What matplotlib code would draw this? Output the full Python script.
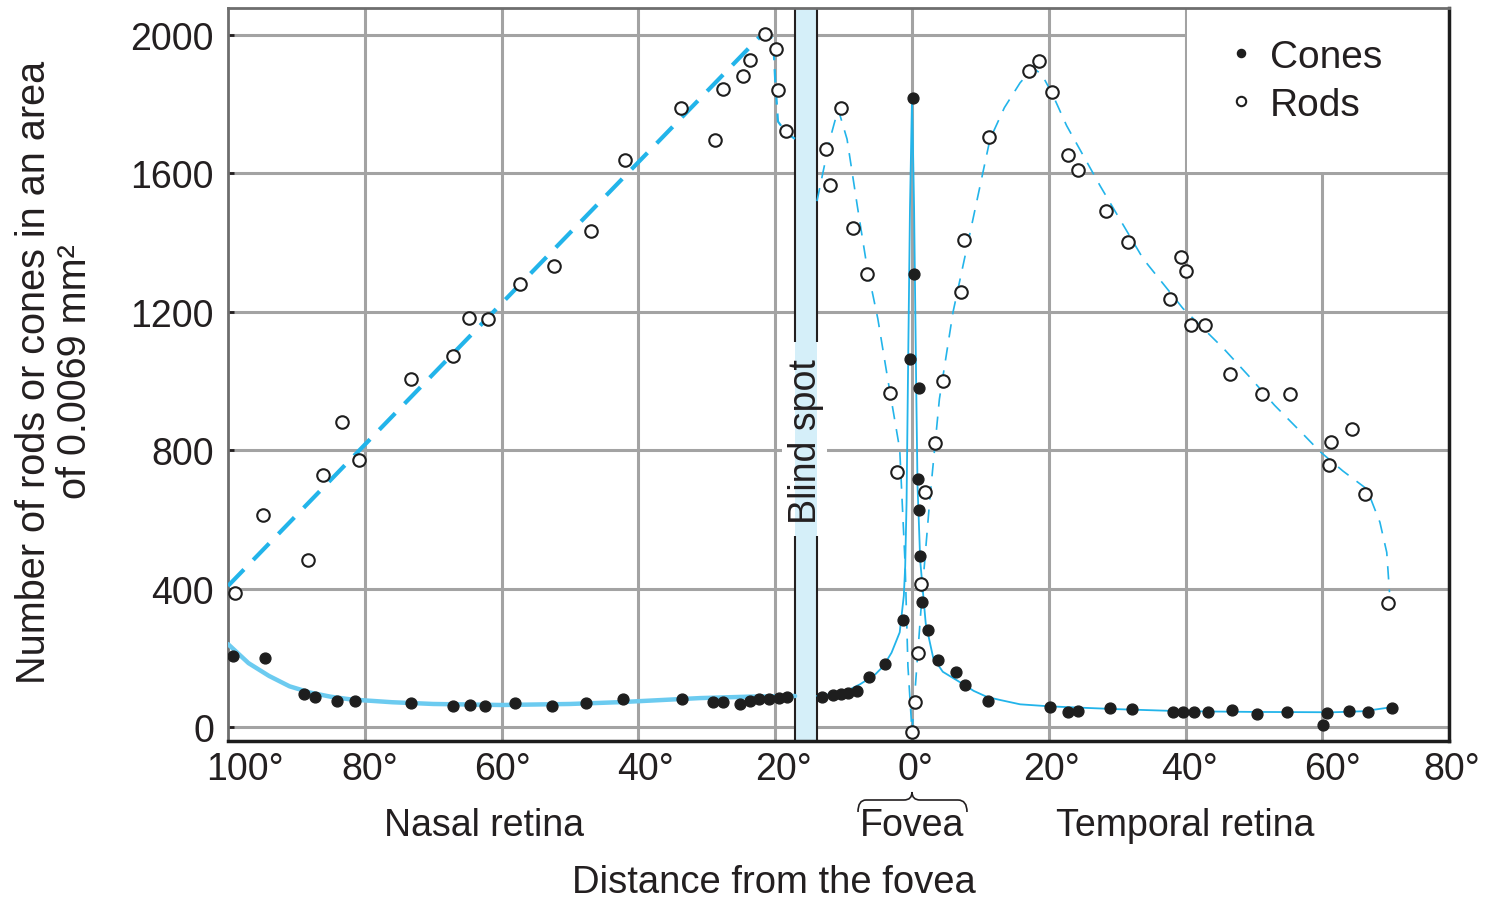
import matplotlib
matplotlib.use("Agg")
import matplotlib.pyplot as plt
from matplotlib.patches import Rectangle, PathPatch
from matplotlib.path import Path
import matplotlib.transforms as mtransforms

plt.rcParams['font.family'] = ['Liberation Sans', 'DejaVu Sans']

# measured points (nasal side negative)
cones_x = [-99.3, -94.6, -88.9, -87.3, -84.1, -81.4, -73.3, -67.1, -64.6, -62.4,
           -58.0, -52.6, -47.7, -42.3, -33.6, -29.1, -27.6, -25.1, -23.7, -22.3,
           -20.9, -19.5, -18.3, -13.2, -11.6, -10.4, -9.3, -8.0, -6.3, -3.9,
           -1.3, -0.3, 0.1, 0.3, 1.0, 0.9, 1.0, 1.2, 1.5, 2.3, 3.8, 6.4, 7.7, 11.1,
           20.2, 22.8, 24.3, 28.9, 32.2, 38.2, 39.6, 41.2, 43.3, 46.8, 50.4, 54.8,
           60.1, 60.7, 63.9, 66.7, 70.2]
cones_y = [205, 199, 95, 87, 75, 75, 69, 61, 64, 61,
           69, 61, 69, 81, 81, 72, 72, 66, 76, 82,
           82, 84, 86, 86, 92, 96, 100, 104, 145, 182,
           309, 1064, 1818, 1309, 980, 717, 627, 494, 361, 280, 194, 159, 121, 75,
           58, 44, 46, 55, 52, 43, 43, 43, 43, 49, 38, 43,
           6, 40, 46, 43, 55]

rods_x = [-99.0, -94.9, -88.3, -86.1, -83.3, -80.8, -73.2, -67.1, -64.8, -62.0,
          -57.3, -52.3, -46.9, -42.0, -33.8, -28.8, -27.6, -24.7, -23.7, -21.5,
          -19.9, -19.6, -18.4, -12.6, -12.0, -10.4, -8.6, -6.6, -3.2, -2.2,
          0.0, 0.4, 0.9, 1.3, 1.9, 3.4, 4.5, 7.2, 7.6, 11.3,
          17.1, 18.6, 20.5, 22.8, 24.3, 28.4, 31.6, 37.7, 39.3, 40.1,
          40.8, 42.8, 46.5, 51.2, 55.3, 61.0, 61.3, 64.3, 66.2, 69.6]
rods_y = [387, 613, 483, 728, 881, 772, 1006, 1072, 1182, 1179,
          1280, 1332, 1434, 1639, 1789, 1697, 1844, 1882, 1928, 2003,
          1960, 1841, 1723, 1671, 1566, 1789, 1442, 1309, 965, 737,
          -14, 72, 214, 413, 679, 821, 1000, 1257, 1407, 1705,
          1896, 1925, 1835, 1653, 1610, 1491, 1402, 1237, 1358, 1318,
          1162, 1162, 1020, 962, 962, 757, 823, 861, 673, 358]

# hand-drawn trend curves
cone_nasal_x = [-100, -97, -94, -91, -88, -85, -82, -76, -70, -60, -50, -43, -31, -24, -17.1]
cone_nasal_y = [240, 185, 148, 118, 100, 88, 80, 72, 67, 64, 67, 72, 84, 88, 90]
cone_temp_x = [-13.9, -10, -7.6, -5.5, -4.2, -3.0, -1.8, -1.2, -1.0, -0.8, -0.6, -0.3, 0.0,
               0.3, 0.6, 0.8, 1.2, 2.0, 3.1, 4.5, 7.0, 9.0, 11.0, 13.0, 15.8, 20.2,
               25, 30, 39.6, 50, 61.5, 66, 70.2]
cone_temp_y = [90, 100, 124, 150, 176, 215, 274, 380, 465, 650, 1000, 1500, 1820,
               1500, 1000, 700, 480, 300, 200, 160, 130, 105, 87, 78, 66, 60,
               56, 52, 46, 44, 43, 46, 58]

rod_nasal_x = [-100, -22.0]
rod_nasal_y = [408, 2000]
rod_peak_x = [-22.0, -21.0, -20.3, -20.0, -19.6, -18.3, -17.1]
rod_peak_y = [2000, 2005, 1985, 1870, 1750, 1715, 1700]
rod_temp_x = [-13.9, -12.0, -10.8, -9.5, -8.0, -6.6, -5.0, -3.5, -1.8, -1.0, -0.6, 0.0,
              0.7, 1.6, 2.6, 4.0, 6.0, 8.5, 11.4, 13.5, 15.8, 17.7, 19.0, 20.5, 22.6,
              27.5, 33.8, 39.6, 45.5, 49.4, 53.0, 57.2, 59.6, 63.0, 66.5, 68.4, 69.4, 69.8]
rod_temp_y = [1520, 1699, 1786, 1699, 1506, 1332, 1180, 1000, 803, 465, 176, -14,
              176, 419, 659, 948, 1200, 1430, 1699, 1790, 1862, 1905, 1885, 1830, 1738,
              1564, 1353, 1210, 1095, 1011, 930, 846, 797, 740, 688, 592, 505, 390]

xtick_pos = [-100, -80, -60, -40, -20, 0, 20, 40, 60, 80]
xtick_lab = ['100°', '80°', '60°', '40°', '20°', '0°', '20°', '40°', '60°', '80°']
ytick_pos = [0, 400, 800, 1200, 1600, 2000]

blind_lo, blind_hi = -17.1, -13.9

blue = '#22b4ea'
light_blue = '#6ccbf0'
ink = '#231f20'
grid_c = '#a3a3a3'

fig = plt.figure(figsize=(14.88, 9.03), dpi=100)
ax = fig.add_axes([228 / 1488, 1 - 742 / 903, 1221 / 1488, 733 / 903])
ax.set_xlim(-100, 78.5)
ax.set_ylim(-40, 2078)

# grid
ax.set_axisbelow(True)
ax.set_xticks(xtick_pos[1:-1])
ax.set_yticks(ytick_pos)
ax.grid(True, color=grid_c, lw=2.2)
ax.tick_params(axis='x', length=0, labelbottom=False)
ax.tick_params(axis='y', direction='in', length=4, width=2, color=ink,
               labelsize=27, labelcolor=ink, pad=10)

# white block behind the legend
ax.add_patch(Rectangle((40.25, 1604.5), 60, 600, facecolor='white',
                       edgecolor='none', zorder=0.8))
# gap in grid around the blind spot text
ax.add_patch(Rectangle((-19.0, 560), 6.5, 545, facecolor='white',
                       edgecolor='none', zorder=0.8))

for side in ['top', 'left']:
    ax.spines[side].set_color('#6e6e6e')
    ax.spines[side].set_linewidth(2)
for side in ['bottom', 'right']:
    ax.spines[side].set_color('#1c1c1c')
    ax.spines[side].set_linewidth(2.5)

# blind spot bar
ax.axvspan(blind_lo, blind_hi, facecolor='#d5eff9', edgecolor='none', zorder=2)
ax.vlines([blind_lo, blind_hi], -40, 552, color=ink, lw=1.5, zorder=2.5)
ax.vlines([blind_lo, blind_hi], 1113, 2078, color=ink, lw=1.5, zorder=2.5)
ax.text((blind_lo + blind_hi) / 2, 827, 'Blind spot', rotation=90, ha='center',
        va='center', fontsize=27, color=ink, zorder=3)

# trend curves
ax.plot(cone_nasal_x, cone_nasal_y, color=light_blue, lw=3.2, zorder=3,
        solid_capstyle='round')
ax.plot(cone_temp_x, cone_temp_y, color=blue, lw=1.3, zorder=3)
ax.plot(rod_nasal_x, rod_nasal_y, color=blue, lw=3.0, zorder=3,
        dashes=(5.5, 3.2))
ax.plot(rod_peak_x, rod_peak_y, color=blue, lw=1.6, zorder=3, dashes=(6, 4))
ax.plot(rod_temp_x, rod_temp_y, color=blue, lw=1.2, zorder=3, dashes=(8, 6))

# points
ax.plot(cones_x, cones_y, 'o', ms=7.8, color='#1e1e1e', mec='#1e1e1e', zorder=4,
        label='Cones')
ax.plot(rods_x, rods_y, 'o', ms=9, mfc='white', mec='#1e1e1e', mew=1.5,
        zorder=4, label='Rods')

leg = ax.legend(loc='upper left', bbox_to_anchor=(1229 / 1488, 1 - 40 / 903),
                bbox_transform=fig.transFigure, frameon=False, fontsize=28,
                handlelength=0.6, handletextpad=0.45, labelspacing=0.3,
                markerscale=0.75, borderpad=0, borderaxespad=0)
for t in leg.get_texts():
    t.set_color(ink)

# x tick labels, nudged (in pixels) as in the original artwork
label_dx = [17, 5, 1, 7, 8, 3, 3, 4, 10, -8]
base = mtransforms.blended_transform_factory(ax.transData, ax.transAxes)
for xp, lab, dx in zip(xtick_pos, xtick_lab, label_dx):
    off = mtransforms.ScaledTranslation(dx / 100, 0, fig.dpi_scale_trans)
    ax.text(xp, -0.038, lab, transform=base + off, ha='center', va='center',
            fontsize=27, color=ink, clip_on=False)

# region labels
fig.text(484 / 1488, 1 - 826 / 903, 'Nasal retina', ha='center', va='center',
         fontsize=27, color=ink)
fig.text(912 / 1488, 1 - 826 / 903, 'Fovea', ha='center', va='center',
         fontsize=27, color=ink)
fig.text(1185 / 1488, 1 - 826 / 903, 'Temporal retina', ha='center', va='center',
         fontsize=27, color=ink)
fig.text(774 / 1488, 1 - 883 / 903, 'Distance from the fovea', ha='center',
         va='center', fontsize=27.5, color=ink)
fig.text(55 / 1488, 1 - 372 / 903, 'Number of rods or cones in an area\nof 0.0069 mm²',
         rotation=90, ha='center', va='center', multialignment='center',
         fontsize=28.5, color=ink, linespacing=1.1)

# brace over "Fovea"
W, H = 1488.0, 903.0
pts = [(858, 813), (858, 801), (866, 801), (904, 801), (912, 801), (912, 793),
       (912, 801), (920, 801), (958, 801), (967, 801), (967, 813)]
codes = [Path.MOVETO, Path.CURVE3, Path.CURVE3, Path.LINETO, Path.CURVE3, Path.CURVE3,
         Path.CURVE3, Path.CURVE3, Path.LINETO, Path.CURVE3, Path.CURVE3]
brace = Path([(px / W, 1 - py / H) for px, py in pts], codes)
fig.add_artist(PathPatch(brace, transform=fig.transFigure, facecolor='none',
                         edgecolor=ink, lw=1.2))

fig.savefig('out.png', dpi=100)
